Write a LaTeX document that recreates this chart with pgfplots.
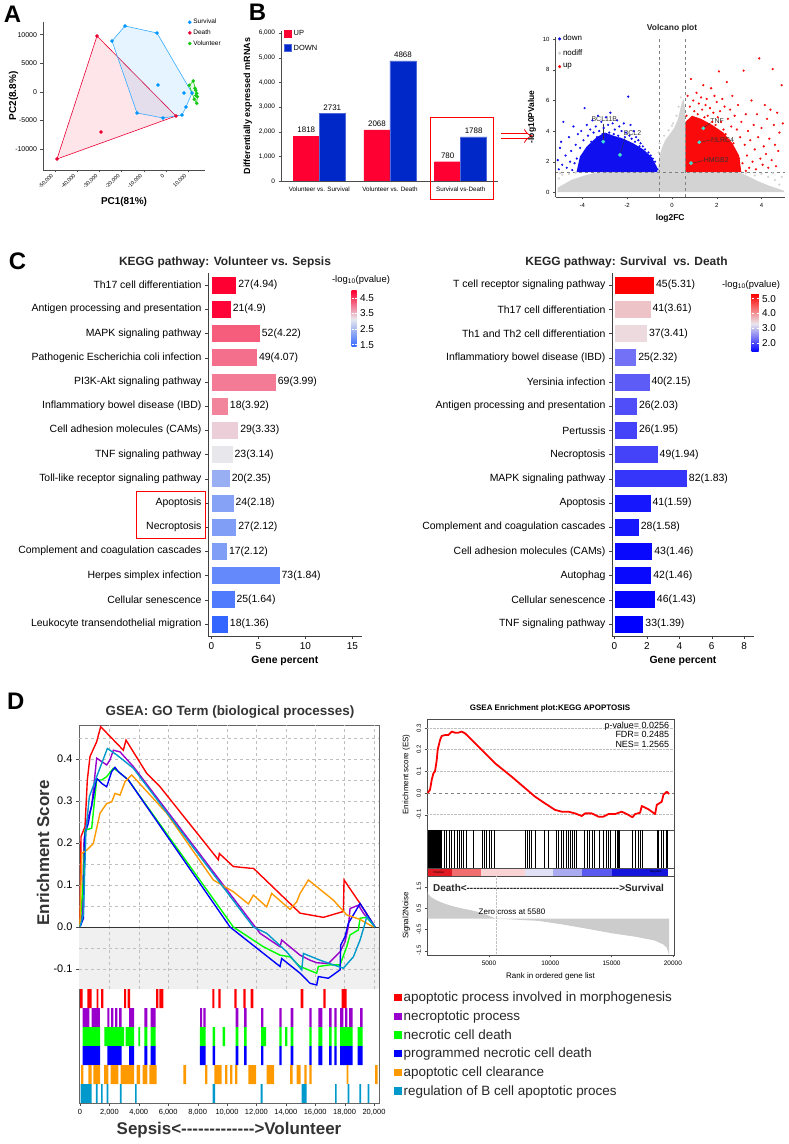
\documentclass[border=0pt]{standalone}
\usepackage{fontspec}
\setmainfont{Liberation Sans}
\newfontfamily\nolig{Liberation Sans}
\usepackage{pgfplots}
\pgfplotsset{compat=1.18}
\usetikzlibrary{arrows.meta}

\newcommand\fs[2]{\fontsize{#1}{#2}\selectfont}
\newcommand\py[1]{1144bp-#1bp}

\definecolor{survblue}{RGB}{0,150,255}
\definecolor{deathred}{RGB}{235,0,50}
\definecolor{volgreen}{RGB}{20,200,20}
\definecolor{upred}{RGB}{255,0,51}
\definecolor{downblue}{RGB}{0,40,200}
\definecolor{vblue}{RGB}{15,15,240}
\definecolor{vred}{RGB}{250,10,10}
\definecolor{vgray}{RGB}{211,211,211}
\definecolor{vcyan}{RGB}{64,224,208}
\definecolor{kred}{RGB}{255,0,51}
\definecolor{kmid}{RGB}{232,232,236}
\definecolor{kblue}{RGB}{51,102,255}
\definecolor{kr2}{RGB}{255,0,0}
\definecolor{km2}{RGB}{235,230,235}
\definecolor{kb2}{RGB}{0,0,255}
\definecolor{gsred}{RGB}{255,0,0}
\definecolor{gspurple}{RGB}{153,0,204}
\definecolor{gsgreen}{RGB}{0,255,0}
\definecolor{gsblue}{RGB}{0,0,255}
\definecolor{gsorange}{RGB}{255,153,0}
\definecolor{gscyan}{RGB}{0,153,204}

\pgfplotsset{
  /pgf/number format/assume math mode=true,
  panel/.style={anchor=south west, scale only axis, tick align=outside},
  kbar/.style={xbar, bar shift=0pt, bar width=18bp, draw=white, line width=0.5pt,
    nodes near coords, point meta=explicit symbolic,
    nodes near coords style={font=\fs{10.5}{12}, anchor=west, inner sep=1.5bp, text=black}},
  rug/.style={forget plot, unbounded coords=jump, fill=#1, draw=none},
  sqleg/.style={legend image code/.code={\fill[##1] (0bp,-3.5bp) rectangle (7bp,3.5bp);}},
}

\begin{document}
\begin{tikzpicture}

% ---------------- A: PCA
\begin{axis}[panel, at={(43bp,\py{170})}, width=162bp, height=148bp,
  xmin=-55405, xmax=17568, ymin=-13634, ymax=12236,
  axis lines*=left, axis line style={black!70, line width=0.6pt}, tick style={black!70, line width=0.6pt},
  major tick length=2.5bp, scaled ticks=false,
  xtick={-50000,-40000,-30000,-20000,-10000,0,10000},
  ytick={-10000,-5000,0,5000,10000},
  xticklabel style={font=\fs{5.4}{6.2}, rotate=45, anchor=east, /pgf/number format/1000 sep={,}},
  yticklabel style={font=\fs{7}{8}, /pgf/number format/1000 sep={}},
  xlabel={PC1(81\%)}, ylabel={PC2(8.8\%)}, label style={font=\bfseries\fs{10}{11}},
  ylabel style={at={(axis description cs:-0.182,0.5)}, anchor=center},
  legend style={at={(0.895,1.034)}, anchor=north west, draw=none, fill=none,
    font=\fs{6.5}{7.5}, row sep=0.5bp, inner sep=0pt},
  legend cell align=left]
\addlegendimage{only marks, mark=*, mark size=1.6pt, survblue}
\addlegendentry{Survival}
\addlegendimage{only marks, mark=*, mark size=1.6pt, deathred}
\addlegendentry{Death}
\addlegendimage{only marks, mark=*, mark size=1.6pt, volgreen}
\addlegendentry{Volunteer}
\addplot[forget plot, draw=deathred, line width=0.6pt, fill=deathred, fill opacity=0.1]
  coordinates {(-31080,9790) (4500,-4200) (-49100,-11710)} -- cycle;
\addplot[forget plot, draw=survblue!80, line width=0.6pt, fill=survblue, fill opacity=0.1]
  coordinates {(-24320,8910) (-18470,11540) (-4050,10310) (11710,-170) (9010,-2620)
  (7210,-4020) (-1350,-4540) (-13060,-3670)} -- cycle;
\addplot[forget plot, draw=volgreen, line width=0.6pt, fill=volgreen, fill opacity=0.1]
  coordinates {(12300,1920) (14100,-820) (13830,-1980) (12750,-1280) (10500,1170)} -- cycle;
\addplot[forget plot, only marks, mark=*, mark size=1.6pt, survblue] coordinates {
  (-24320,8910) (-18470,11540) (-4050,10310) (-3600,1220) (8110,-170) (11710,-170)
  (9010,-2620) (7210,-4020) (-1350,-4540) (-13060,-3670)};
\addplot[forget plot, only marks, mark=*, mark size=1.6pt, deathred] coordinates {
  (-31080,9790) (4500,-4200) (-29280,-6990) (-49100,-11710)};
\addplot[forget plot, only marks, mark=*, mark size=1.6pt, volgreen] coordinates {
  (12300,1920) (10500,1170) (13060,650) (13830,-230) (14100,-820) (12750,-1280)
  (13830,-1980) (13400,300) (13500,-600)};
\end{axis}

% ---------------- B: DE bar chart
\begin{axis}[panel, at={(281bp,\py{181})}, width=217bp, height=150bp,
  ybar=0pt, bar width=26bp, xmin=-0.542, xmax=2.528, ymin=0, ymax=6080,
  axis lines*=left, axis line style={black!70, line width=0.6pt}, tick style={black!70},
  major tick length=2.5bp, xtick={0,1,2}, xtick style={draw=none},
  xticklabels={Volunteer vs. Survival, Volunteer vs. Death, Survival vs-Death},
  xticklabel style={font=\fs{6.3}{7}},
  ytick={0,1000,2000,3000,4000,5000,6000}, scaled y ticks=false,
  yticklabel style={font=\fs{6.5}{7}, /pgf/number format/1000 sep={,}},
  ylabel={Differentially expressed mRNAs}, ylabel style={font=\bfseries\fs{9}{10}},
  nodes near coords, nodes near coords style={font=\fs{8}{9}, text=black, /pgf/number format/1000 sep={}},
  legend style={at={(0.014,1.02)}, anchor=north west, draw=none, fill=none,
    font=\fs{7.5}{8}, row sep=4bp, inner sep=0pt},
  legend cell align=left]
\addplot[fill=upred, draw=upred, sqleg] coordinates {(0,1818) (1,2068) (2,780)};
\addlegendentry{UP}
\addplot[fill=downblue, draw=downblue!70!white, sqleg] coordinates {(0,2731) (1,4868) (2,1788)};
\addlegendentry{DOWN}
\end{axis}
\draw[red, line width=0.8pt] (430bp,\py{117}) rectangle (493bp,\py{199});
\draw[red, line width=0.8pt, double, double distance=4bp, -{Implies}] (501bp,\py{136}) -- (533bp,\py{136});

% ---------------- B: volcano
\begin{axis}[panel, at={(555.5bp,\py{197})}, width=229.5bp, height=160.3bp,
  xmin=-5.2, xmax=5.05, ymin=-0.31, ymax=10.17,
  axis lines*=left, axis line style={black!70, line width=0.6pt}, tick style={black!70},
  major tick length=2.5bp, xtick={-4,-2,0,2,4}, ytick={0,2,4,6,8,10},
  ticklabel style={font=\fs{6}{7}},
  xlabel={log2FC}, ylabel={-log10PValue}, label style={font=\bfseries\fs{8.5}{9}},
  legend style={at={(0.011,1.023)}, anchor=north west, draw=none, fill=none,
    font=\fs{8}{9}, row sep=3bp, inner sep=0pt},
  legend cell align=left]
\addlegendimage{only marks, mark=*, mark size=1.4pt, vblue}
\addlegendentry{down}
\addlegendimage{only marks, mark=*, mark size=1.4pt, vgray}
\addlegendentry{nodiff}
\addlegendimage{only marks, mark=*, mark size=1.4pt, vred}
\addlegendentry{up}
\addplot[forget plot, fill=vgray, draw=none] coordinates {
  (-5.1,0) (-5.1,0.3) (-4.8,0.55) (-4.5,0.8) (-4.0,1.05) (-3.5,1.25) (-3.0,1.3)
  (-0.62,1.3) (-0.58,2.2) (-0.45,2.9) (-0.3,3.4) (-0.1,3.8) (0.1,4.2) (0.25,4.7)
  (0.35,5.3) (0.45,5.9) (0.52,6.1) (0.58,5.5) (0.58,1.3) (3.0,1.3) (3.4,1.05)
  (3.8,0.75) (4.3,0.45) (4.7,0.25) (5.0,0.1) (5.0,0)} -- cycle;
\addplot[forget plot, only marks, mark=*, mark size=0.9pt, vgray] coordinates {
  (-5.05,0.9) (-4.9,1.15) (-4.6,1.2) (-4.3,1.28) (-5.0,1.25) (4.8,0.5) (4.6,0.8)
  (4.3,1.0) (4.0,1.2) (3.7,1.1) (4.9,1.0) (4.5,1.25) (3.3,1.25) (-0.55,3.2)
  (-0.35,3.7) (-0.15,4.05) (0.05,4.5) (0.2,5.0) (0.3,5.6) (0.4,6.2) (-0.6,2.6) (0.0,4.35)};
\addplot[forget plot, fill=vblue, draw=none] coordinates {
  (-4.26,1.32) (-4.11,2.33) (-3.81,2.98) (-3.36,3.6) (-2.99,3.9) (-2.62,3.7)
  (-2.17,3.5) (-1.73,3.2) (-1.28,2.8) (-0.91,2.3) (-0.68,1.68) (-0.65,1.32)} -- cycle;
\addplot[forget plot, only marks, mark=*, mark size=0.9pt, vblue] coordinates {
  (-5.05,1.5) (-5.1,2.1) (-5.0,2.9) (-4.95,3.3) (-4.85,4.6) (-4.9,1.8) (-4.75,2.4)
  (-4.7,1.6) (-4.6,3.6) (-4.55,2.0) (-4.5,2.7) (-4.4,4.3) (-4.35,1.9) (-4.3,3.1)
  (-4.25,2.2) (-4.2,3.8) (-4.15,1.7) (-4.1,2.9) (-4.05,4.0) (-3.95,3.4) (-3.9,5.5)
  (-3.85,2.6) (-3.8,4.4) (-3.75,3.7) (-3.7,1.8) (-3.65,4.1) (-3.6,3.3) (-3.55,4.7)
  (-3.5,3.9) (-3.45,2.4) (-3.4,4.3) (-3.35,3.6) (-3.3,5.0) (-3.25,4.0) (-3.2,3.4)
  (-3.15,4.6) (-3.1,3.8) (-3.05,4.2) (-3.0,3.5) (-2.95,4.9) (-2.9,3.7) (-2.85,4.4)
  (-2.8,3.9) (-2.75,5.2) (-2.7,3.6) (-2.65,4.5) (-2.6,3.8) (-2.55,4.1) (-2.5,3.4)
  (-2.45,4.7) (-2.4,3.7) (-2.35,4.3) (-2.3,3.5) (-2.25,4.0) (-2.2,3.3) (-2.15,4.5)
  (-2.1,3.6) (-2.05,3.9) (-2.0,3.2) (-1.95,6.25) (-1.9,3.7) (-1.85,4.4) (-1.8,3.5)
  (-1.75,3.1) (-1.7,4.0) (-1.65,3.3) (-1.6,3.6) (-1.55,2.9) (-1.5,3.4) (-1.45,3.0)
  (-1.4,3.2) (-1.35,2.7) (-1.3,3.0) (-1.25,2.6) (-1.2,2.8) (-1.15,2.5) (-1.1,2.3)
  (-1.05,2.6) (-1.0,2.2) (-0.95,2.4) (-0.9,2.0) (-0.85,2.2) (-0.8,1.8) (-0.75,2.0)
  (-0.7,1.6) (-0.65,1.5) (-4.45,1.45) (-4.0,1.5) (-3.3,2.2) (-2.9,2.5) (-2.5,2.2)
  (-2.1,2.6) (-1.6,2.3)};
\addplot[forget plot, fill=vred, draw=none] coordinates {
  (0.6,1.32) (0.6,4.6) (0.9,5.0) (1.3,4.8) (1.8,4.4) (2.3,3.9) (2.7,3.2)
  (3.0,2.4) (3.1,1.32)} -- cycle;
\addplot[forget plot, only marks, mark=*, mark size=0.9pt, vred] coordinates {
  (0.65,5.0) (0.7,6.3) (0.75,4.6) (0.8,5.6) (0.85,7.4) (0.9,4.9) (0.95,6.0) (1.0,5.3)
  (1.05,4.8) (1.1,6.5) (1.15,5.1) (1.2,5.8) (1.25,4.7) (1.3,6.2) (1.35,5.4) (1.4,7.0)
  (1.45,4.9) (1.5,5.7) (1.55,6.1) (1.6,5.0) (1.7,5.5) (1.75,6.8) (1.8,4.6) (1.85,5.2)
  (1.9,6.3) (1.95,4.4) (2.0,5.9) (2.05,4.9) (2.1,7.9) (2.15,5.3) (2.2,4.6) (2.25,6.1)
  (2.3,4.1) (2.35,5.6) (2.4,3.8) (2.45,7.2) (2.5,4.8) (2.55,3.4) (2.6,5.4) (2.65,4.3)
  (2.7,6.3) (2.75,3.2) (2.8,5.0) (2.85,2.6) (2.9,4.1) (2.95,5.7) (3.0,2.2) (3.05,3.6)
  (3.1,4.6) (3.15,1.9) (3.2,7.95) (3.25,3.1) (3.3,5.1) (3.35,2.4) (3.4,4.0) (3.45,1.6)
  (3.5,3.4) (3.55,6.0) (3.6,2.0) (3.65,4.4) (3.7,2.8) (3.75,1.5) (3.8,5.1) (3.85,3.6)
  (3.9,8.75) (3.95,2.2) (4.0,4.2) (4.05,1.8) (4.1,3.0) (4.15,5.7) (4.2,2.5) (4.25,4.8)
  (4.3,1.6) (4.35,3.5) (4.4,5.4) (4.45,2.1) (4.5,8.05) (4.55,4.4) (4.6,3.1) (4.65,1.7)
  (4.7,5.2) (4.75,2.7) (4.8,3.9) (4.9,7.0) (4.95,4.5) (3.3,1.4) (2.2,1.5) (1.9,3.4) (2.6,2.6)};
\draw[gray, dashed, line width=0.5pt] (axis cs:-0.585,-0.31) -- (axis cs:-0.585,10.17);
\draw[gray, dashed, line width=0.5pt] (axis cs:0.585,-0.31) -- (axis cs:0.585,10.17);
\draw[gray, dashed, line width=0.5pt] (axis cs:-5.2,1.3) -- (axis cs:5.05,1.3);
\draw[black!80, line width=0.4pt] (axis cs:-3.07,4.47) -- (axis cs:-3.07,3.42);
\draw[black!80, line width=0.4pt] (axis cs:-2.10,3.53) -- (axis cs:-2.32,2.44);
\draw[black!80, line width=0.4pt] (axis cs:1.73,4.55) -- (axis cs:1.43,4.23);
\draw[black!80, line width=0.4pt] (axis cs:1.73,3.42) -- (axis cs:1.28,3.27);
\draw[black!80, line width=0.4pt] (axis cs:1.40,2.07) -- (axis cs:0.92,1.90);
\addplot[forget plot, only marks, mark=*, mark size=1.7pt, vcyan] coordinates {
  (-3.07,3.31) (-2.32,2.44) (1.40,4.18) (1.22,3.27) (0.85,1.90)};
\node[font=\fs{7}{8}, text=black!80] at (axis cs:-3.02,4.77) {BCL11B};
\node[font=\fs{7}{8}, text=black!80] at (axis cs:-1.76,3.86) {BCL2};
\node[font=\fs{7}{8}, text=black!80] at (axis cs:2.02,4.68) {TNF};
\node[font=\fs{7}{8}, text=black!80] at (axis cs:2.26,3.42) {NLRC4};
\node[font=\fs{7}{8}, text=black!80] at (axis cs:1.98,2.07) {HMGB2};
\end{axis}
\node[font=\bfseries\fs{8.5}{9}, text=black!85] at (672bp,\py{28}) {Volcano plot};

% ---------------- C left
\begin{axis}[panel, at={(208bp,\py{636})}, width=153.7bp, height=363bp,
  xmin=-0.35, xmax=16, ymin=0.5, ymax=15.5,
  axis lines*=left, axis line style={black!75, line width=0.7pt}, tick style={black!75},
  major tick length=3bp, xtick={0,5,10,15}, ytick={1,...,15},
  yticklabels={Leukocyte transendothelial migration, Cellular senescence, Herpes simplex infection,
    Complement and coagulation cascades, Necroptosis, Apoptosis, Toll-like receptor signaling pathway,
    TNF signaling pathway, Cell adhesion molecules (CAMs), Inflammatiory bowel disease (IBD),
    PI3K-Akt signaling pathway, Pathogenic Escherichia coli infection, MAPK signaling pathway,
    Antigen processing and presentation, Th17 cell differentiation},
  yticklabel style={font=\fs{10.5}{12}}, xticklabel style={font=\fs{10}{11}},
  xlabel={Gene percent}, xlabel style={font=\bfseries\fs{10.5}{12}},
  colormap={kl}{rgb255(0pt)=(51,102,255); rgb255(178pt)=(232,232,236); rgb255(358pt)=(255,0,51); rgb255(364pt)=(255,0,51)},
  point meta min=1.36, point meta max=5.0,
  colorbar, colorbar style={at={(343bp,\py{290})}, anchor=north west, scale only axis,
    width=5bp, height=57bp, ytick={1.5,2.5,3.5,4.5}, yticklabel pos=right,
    yticklabel style={font=\fs{10}{11}, /pgf/number format/fixed, /pgf/number format/precision=1, /pgf/number format/fixed zerofill},
    axis line style={draw=none}, major tick length=2bp, tick style={white, line width=0.6pt}}]
\addplot[kbar, fill=kred] coordinates {(2.7,15) [27(4.94)]};
\addplot[kbar, fill=kred!98!kmid] coordinates {(2.1,14) [21(4.9)]};
\addplot[kbar, fill=kred!60!kmid] coordinates {(5.2,13) [52(4.22)]};
\addplot[kbar, fill=kred!52!kmid] coordinates {(4.9,12) [49(4.07)]};
\addplot[kbar, fill=kred!47!kmid] coordinates {(6.9,11) [69(3.99)]};
\addplot[kbar, fill=kred!43!kmid] coordinates {(1.8,10) [18(3.92)]};
\addplot[kbar, fill=kred!11!kmid] coordinates {(2.9,9) [29(3.33)]};
\addplot[kbar, fill=kmid] coordinates {(2.3,8) [23(3.14)]};
\addplot[kbar, fill=kblue!44!kmid] coordinates {(2.0,7) [20(2.35)]};
\addplot[kbar, fill=kblue!54!kmid] coordinates {(2.4,6) [24(2.18)]};
\addplot[kbar, fill=kblue!57!kmid] coordinates {(2.7,5) [27(2.12)]};
\addplot[kbar, fill=kblue!57!kmid] coordinates {(1.7,4) [17(2.12)]};
\addplot[kbar, fill=kblue!73!kmid] coordinates {(7.3,3) [73(1.84)]};
\addplot[kbar, fill=kblue!84!kmid] coordinates {(2.5,2) [25(1.64)]};
\addplot[kbar, fill=kblue] coordinates {(1.8,1) [18(1.36)]};
\end{axis}
\node[font=\bfseries\fs{12}{13}, text=black!85] at (225bp,\py{262}) {KEGG pathway: Volunteer vs. Sepsis};
\node[font=\fs{9.5}{10}] at (361bp,\py{280}) {-log\textsubscript{10}(pvalue)};
\draw[red, line width=0.8pt] (136.7bp,\py{491.7}) rectangle (205bp,\py{538.3});

% ---------------- C right
\begin{axis}[panel, at={(612bp,\py{636})}, width=142bp, height=363bp,
  xmin=-0.14, xmax=8.6, ymin=0.5, ymax=15.5,
  axis lines*=left, axis line style={black!75, line width=0.7pt}, tick style={black!75},
  major tick length=3bp, xtick={0,2,4,6,8}, ytick={1,...,15},
  yticklabels={TNF signaling pathway, Cellular senescence, Autophag, Cell adhesion molecules (CAMs),
    Complement and coagulation cascades, Apoptosis, MAPK signaling pathway, Necroptosis, Pertussis,
    Antigen processing and presentation, Yersinia infection, Inflammatiory bowel disease (IBD),
    Th1 and Th2 cell differentiation, Th17 cell differentiation, T cell receptor signaling pathway},
  yticklabel style={font=\fs{10.5}{12}}, xticklabel style={font=\fs{10}{11}},
  xlabel={Gene percent}, xlabel style={font=\bfseries\fs{10.5}{12}},
  colormap={kr}{rgb255(0pt)=(0,0,255); rgb255(191pt)=(235,230,235); rgb255(392pt)=(255,0,0)},
  point meta min=1.39, point meta max=5.31,
  colorbar, colorbar style={at={(743bp,\py{294})}, anchor=north west, scale only axis,
    width=7bp, height=58bp, ytick={2,3,4,5}, yticklabel pos=right,
    yticklabel style={font=\fs{10}{11}, /pgf/number format/fixed, /pgf/number format/precision=1, /pgf/number format/fixed zerofill},
    axis line style={draw=none}, major tick length=2bp, tick style={white, line width=0.6pt}}]
\addplot[kbar, fill=kr2] coordinates {(2.47,15) [45(5.31)]};
\addplot[kbar, fill=kr2!15!km2] coordinates {(2.25,14) [41(3.61)]};
\addplot[kbar, fill=kr2!5!km2] coordinates {(2.03,13) [37(3.41)]};
\addplot[kbar, fill=kb2!51!km2] coordinates {(1.37,12) [25(2.32)]};
\addplot[kbar, fill=kb2!60!km2] coordinates {(2.19,11) [40(2.15)]};
\addplot[kbar, fill=kb2!66!km2] coordinates {(1.42,10) [26(2.03)]};
\addplot[kbar, fill=kb2!71!km2] coordinates {(1.42,9) [26(1.95)]};
\addplot[kbar, fill=kb2!71!km2] coordinates {(2.69,8) [49(1.94)]};
\addplot[kbar, fill=kb2!77!km2] coordinates {(4.49,7) [82(1.83)]};
\addplot[kbar, fill=kb2!90!km2] coordinates {(2.25,6) [41(1.59)]};
\addplot[kbar, fill=kb2!90!km2] coordinates {(1.53,5) [28(1.58)]};
\addplot[kbar, fill=kb2!96!km2] coordinates {(2.36,4) [43(1.46)]};
\addplot[kbar, fill=kb2!96!km2] coordinates {(2.30,3) [42(1.46)]};
\addplot[kbar, fill=kb2!98!km2] coordinates {(2.52,2) [46(1.43)]};
\addplot[kbar, fill=kb2] coordinates {(1.81,1) [33(1.39)]};
\end{axis}
\node[font=\bfseries\fs{12}{13}, text=black!85] at (626.5bp,\py{262}) {KEGG pathway: Survival\ \ vs. Death};
\node[font=\fs{9.5}{10}] at (751bp,\py{285}) {-log\textsubscript{10}(pvalue)};

% ---------------- D left: GSEA GO terms
\begin{axis}[panel, at={(79bp,\py{1103})}, width=300bp, height=378bp,
  xmin=-68, xmax=20340, ymin=-0.419, ymax=0.481,
  xtick={0,2000,4000,6000,8000,10000,12000,14000,16000,18000,20000},
  ytick={-0.1,0,0.1,0.2,0.3,0.4}, xtick pos=bottom, ytick pos=left, scaled ticks=false,
  xticklabel style={font=\fs{7.5}{8}, /pgf/number format/1000 sep={,}},
  yticklabel style={font=\fs{11}{12}, /pgf/number format/fixed, /pgf/number format/precision=1, /pgf/number format/fixed zerofill},
  major tick length=3bp, axis line style={black!60, line width=1pt}, tick style={black!70},
  xlabel={\nolig Sepsis<------------->Volunteer}, xlabel style={font=\bfseries\fs{17}{18}, text=black!80},
  legend style={at={(1.05,0.299)}, anchor=north west, draw=none, fill=none,
    font=\fs{13.5}{15}, row sep=3.4bp, inner sep=0pt, text=black!85},
  legend cell align=left,
  legend image code/.code={\fill[#1] (0bp,-3bp) rectangle (6bp,3bp);}]
\fill[black!6] (axis cs:-68,-0.1476) rectangle (axis cs:20340,0);
\pgfplotsinvokeforeach{2000,4000,6000,8000,10000,12000,14000,16000,18000,20000}{
  \draw[black!25, dashed, line width=0.4pt] (axis cs:#1,-0.1476) -- (axis cs:#1,0.481);}
\pgfplotsinvokeforeach{-0.1,-0.05,0.05,0.1,0.15,0.2,0.25,0.3,0.35,0.4,0.45}{
  \draw[black!25, dashed, line width=0.4pt] (axis cs:-68,#1) -- (axis cs:20340,#1);}
\draw[black!80, line width=0.6pt] (axis cs:-68,0) -- (axis cs:20340,0);
\addplot[gsred, line width=1.4pt] coordinates {
  (0,0) (68,0.215) (340,0.239) (499,0.35) (680,0.406) (1134,0.441) (1406,0.477)
  (2948,0.421) (3130,0.445) (4536,0.366) (5443,0.334) (9072,0.175) (9412,0.160)
  (9480,0.175) (10433,0.144) (11567,0.140) (11794,0.140) (14969,0.033) (16556,0.023)
  (17917,0.037) (17962,0.112) (19051,0.056) (20072,0)};
\addlegendentry{apoptotic process involved in morphogenesis}
\addplot[gspurple, line width=1.4pt] coordinates {
  (0,0) (159,0.033) (272,0.207) (499,0.255) (794,0.287) (1134,0.402) (1814,0.386)
  (2041,0.398) (2268,0.421) (2722,0.417) (3629,0.382) (12247,-0.015) (13608,-0.047)
  (13721,-0.031) (14969,-0.067) (15649,-0.079) (16103,-0.085) (16897,-0.087)
  (17691,-0.059) (18030,-0.035) (18257,0.001) (18371,0.044) (18938,0.052)
  (19278,0.033) (20072,0)};
\addlegendentry{necroptotic process}
\addplot[gsgreen, line width=1.4pt] coordinates {
  (0,0) (227,0.112) (340,0.231) (794,0.235) (1134,0.350) (1474,0.350) (1814,0.358)
  (2268,0.378) (2608,0.370) (3289,0.350) (10433,0) (12474,-0.047) (13608,-0.067)
  (14288,-0.071) (14969,-0.094) (16103,-0.110) (16216,-0.094) (17010,-0.090)
  (17691,-0.090) (18144,-0.047) (18371,-0.019) (18938,-0.007) (19051,0.021)
  (19504,0.023) (20072,0)};
\addlegendentry{necrotic cell death}
\addplot[gsblue, line width=1.4pt] coordinates {
  (0,0) (227,0.02) (340,0.223) (567,0.247) (680,0.271) (907,0.310) (1134,0.354)
  (1474,0.342) (1814,0.334) (2155,0.370) (2381,0.380) (2608,0.370) (3289,0.350)
  (10206,0) (13608,-0.094) (13721,-0.075) (14969,-0.110) (15649,-0.134) (16103,-0.138)
  (16216,-0.118) (16897,-0.122) (17691,-0.102) (17736,-0.043) (18030,-0.023)
  (18257,0.009) (18598,0.029) (19051,0.056) (20072,0)};
\addlegendentry{programmed necrotic cell death}
\addplot[gsorange, line width=1.4pt] coordinates {
  (0,0) (113,0.175) (454,0.183) (907,0.199) (1361,0.271) (1814,0.294) (2155,0.298)
  (2381,0.318) (2722,0.314) (3062,0.346) (3515,0.362) (3629,0.358) (5897,0.271)
  (9072,0.112) (10433,0.084) (11454,0.055) (11794,0.076) (12701,0.048) (13041,0.080)
  (14288,0.042) (14742,0.060) (14969,0.080) (15536,0.112) (17237,0.064) (18144,0.029)
  (19051,0.018) (19958,0)};
\addlegendentry{apoptotic cell clearance}
\addplot[gscyan, line width=1.4pt] coordinates {
  (0,0) (227,0.03) (408,0.231) (635,0.310) (1134,0.358) (1860,0.425) (2495,0.410)
  (3629,0.378) (11794,0) (12701,-0.015) (14062,-0.059) (15082,-0.102) (15196,-0.063)
  (16330,-0.079) (17237,-0.090) (17917,-0.098) (18598,-0.071) (19051,-0.031)
  (19391,0.009) (19504,0.025) (20072,0)};
\addlegendentry{regulation of B cell apoptotic proces}
% rug rows: one rectangle per run of set members along the ranked list
\addplot[rug=gsred] coordinates {
(0,-0.1929) (0,-0.1476) (182,-0.1476) (182,-0.1929) (nan,nan)
(499,-0.1929) (499,-0.1476) (793,-0.1476) (793,-0.1929) (nan,nan)
(1134,-0.1929) (1134,-0.1476) (1248,-0.1476) (1248,-0.1929) (nan,nan)
(1429,-0.1929) (1429,-0.1476) (1587,-0.1476) (1587,-0.1929) (nan,nan)
(2994,-0.1929) (2994,-0.1476) (3130,-0.1476) (3130,-0.1929) (nan,nan)
(3244,-0.1929) (3244,-0.1476) (3402,-0.1476) (3402,-0.1929) (nan,nan)
(5171,-0.1929) (5171,-0.1476) (5329,-0.1476) (5329,-0.1929) (nan,nan)
(5398,-0.1929) (5398,-0.1476) (5670,-0.1476) (5670,-0.1929) (nan,nan)
(9004,-0.1929) (9004,-0.1476) (9140,-0.1476) (9140,-0.1929) (nan,nan)
(9413,-0.1929) (9413,-0.1476) (9571,-0.1476) (9571,-0.1929) (nan,nan)
(10501,-0.1929) (10501,-0.1476) (10659,-0.1476) (10659,-0.1929) (nan,nan)
(11113,-0.1929) (11113,-0.1476) (11271,-0.1476) (11271,-0.1929) (nan,nan)
(11612,-0.1929) (11612,-0.1476) (11794,-0.1476) (11794,-0.1929) (nan,nan)
(15014,-0.1929) (15014,-0.1476) (15196,-0.1476) (15196,-0.1929) (nan,nan)
(16556,-0.1929) (16556,-0.1476) (16714,-0.1476) (16714,-0.1929) (nan,nan)
(17804,-0.1929) (17804,-0.1476) (18144,-0.1476) (18144,-0.1929)};
\addplot[rug=gspurple] coordinates {
(181,-0.2381) (181,-0.1929) (635,-0.1929) (635,-0.2381) (nan,nan)
(794,-0.2381) (794,-0.1929) (1360,-0.1929) (1360,-0.2381) (nan,nan)
(1860,-0.2381) (1860,-0.1929) (1996,-0.1929) (1996,-0.2381) (nan,nan)
(2110,-0.2381) (2110,-0.1929) (2268,-0.1929) (2268,-0.2381) (nan,nan)
(2382,-0.2381) (2382,-0.1929) (2540,-0.1929) (2540,-0.2381) (nan,nan)
(2653,-0.2381) (2653,-0.1929) (2835,-0.1929) (2835,-0.2381) (nan,nan)
(3334,-0.2381) (3334,-0.1929) (3674,-0.1929) (3674,-0.2381) (nan,nan)
(4377,-0.2381) (4377,-0.1929) (4581,-0.1929) (4581,-0.2381) (nan,nan)
(4808,-0.2381) (4808,-0.1929) (5148,-0.1929) (5148,-0.2381) (nan,nan)
(8165,-0.2381) (8165,-0.1929) (8301,-0.1929) (8301,-0.2381) (nan,nan)
(8392,-0.2381) (8392,-0.1929) (8550,-0.1929) (8550,-0.2381) (nan,nan)
(10591,-0.2381) (10591,-0.1929) (10773,-0.1929) (10773,-0.2381) (nan,nan)
(11158,-0.2381) (11158,-0.1929) (11340,-0.1929) (11340,-0.2381) (nan,nan)
(12316,-0.2381) (12316,-0.1929) (12474,-0.1929) (12474,-0.2381) (nan,nan)
(13563,-0.2381) (13563,-0.1929) (13721,-0.1929) (13721,-0.2381) (nan,nan)
(14333,-0.2381) (14333,-0.1929) (14515,-0.1929) (14515,-0.2381) (nan,nan)
(15604,-0.2381) (15604,-0.1929) (15762,-0.1929) (15762,-0.2381) (nan,nan)
(16216,-0.2381) (16216,-0.1929) (16488,-0.1929) (16488,-0.2381) (nan,nan)
(16942,-0.2381) (16942,-0.1929) (17124,-0.1929) (17124,-0.2381) (nan,nan)
(17305,-0.2381) (17305,-0.1929) (17463,-0.1929) (17463,-0.2381) (nan,nan)
(17691,-0.2381) (17691,-0.1929) (17917,-0.1929) (17917,-0.2381) (nan,nan)
(18031,-0.2381) (18031,-0.1929) (18189,-0.1929) (18189,-0.2381) (nan,nan)
(18302,-0.2381) (18302,-0.1929) (18552,-0.1929) (18552,-0.2381) (nan,nan)
(19051,-0.2381) (19051,-0.1929) (19233,-0.1929) (19233,-0.2381)};
\addplot[rug=gsgreen] coordinates {
(181,-0.2833) (181,-0.2381) (1361,-0.2381) (1361,-0.2833) (nan,nan)
(1656,-0.2833) (1656,-0.2381) (2994,-0.2381) (2994,-0.2833) (nan,nan)
(3108,-0.2833) (3108,-0.2381) (3674,-0.2381) (3674,-0.2833) (nan,nan)
(3969,-0.2833) (3969,-0.2381) (4083,-0.2381) (4083,-0.2833) (nan,nan)
(4377,-0.2833) (4377,-0.2381) (4581,-0.2381) (4581,-0.2833) (nan,nan)
(4808,-0.2833) (4808,-0.2381) (5148,-0.2381) (5148,-0.2833) (nan,nan)
(8159,-0.2833) (8159,-0.2381) (8545,-0.2381) (8545,-0.2833) (nan,nan)
(9027,-0.2833) (9027,-0.2381) (9185,-0.2381) (9185,-0.2833) (nan,nan)
(9707,-0.2833) (9707,-0.2381) (9865,-0.2381) (9865,-0.2833) (nan,nan)
(10591,-0.2833) (10591,-0.2381) (10773,-0.2381) (10773,-0.2833) (nan,nan)
(11158,-0.2833) (11158,-0.2381) (11340,-0.2381) (11340,-0.2833) (nan,nan)
(12315,-0.2833) (12315,-0.2381) (12655,-0.2381) (12655,-0.2833) (nan,nan)
(13563,-0.2833) (13563,-0.2381) (13721,-0.2381) (13721,-0.2833) (nan,nan)
(13949,-0.2833) (13949,-0.2381) (14107,-0.2381) (14107,-0.2833) (nan,nan)
(14333,-0.2833) (14333,-0.2381) (14515,-0.2381) (14515,-0.2833) (nan,nan)
(15604,-0.2833) (15604,-0.2381) (15762,-0.2381) (15762,-0.2833) (nan,nan)
(16216,-0.2833) (16216,-0.2381) (16488,-0.2381) (16488,-0.2833) (nan,nan)
(16942,-0.2833) (16942,-0.2381) (17124,-0.2381) (17124,-0.2833) (nan,nan)
(17305,-0.2833) (17305,-0.2381) (17463,-0.2381) (17463,-0.2833) (nan,nan)
(17690,-0.2833) (17690,-0.2381) (18552,-0.2381) (18552,-0.2833) (nan,nan)
(18892,-0.2833) (18892,-0.2381) (19232,-0.2381) (19232,-0.2833)};
\addplot[rug=gsblue] coordinates {
(181,-0.3286) (181,-0.2833) (1361,-0.2833) (1361,-0.3286) (nan,nan)
(1859,-0.3286) (1859,-0.2833) (2835,-0.2833) (2835,-0.3286) (nan,nan)
(3334,-0.3286) (3334,-0.2833) (3674,-0.2833) (3674,-0.3286) (nan,nan)
(4377,-0.3286) (4377,-0.2833) (4581,-0.2833) (4581,-0.3286) (nan,nan)
(4808,-0.3286) (4808,-0.2833) (5148,-0.2833) (5148,-0.3286) (nan,nan)
(8159,-0.3286) (8159,-0.2833) (8545,-0.2833) (8545,-0.3286) (nan,nan)
(9027,-0.3286) (9027,-0.2833) (9185,-0.2833) (9185,-0.3286) (nan,nan)
(10591,-0.3286) (10591,-0.2833) (10773,-0.2833) (10773,-0.3286) (nan,nan)
(11158,-0.3286) (11158,-0.2833) (11340,-0.2833) (11340,-0.3286) (nan,nan)
(12316,-0.3286) (12316,-0.2833) (12474,-0.2833) (12474,-0.3286) (nan,nan)
(13563,-0.3286) (13563,-0.2833) (13721,-0.2833) (13721,-0.3286) (nan,nan)
(14333,-0.3286) (14333,-0.2833) (14515,-0.2833) (14515,-0.3286) (nan,nan)
(15604,-0.3286) (15604,-0.2833) (15762,-0.2833) (15762,-0.3286) (nan,nan)
(16216,-0.3286) (16216,-0.2833) (16488,-0.2833) (16488,-0.3286) (nan,nan)
(16942,-0.3286) (16942,-0.2833) (17124,-0.2833) (17124,-0.3286) (nan,nan)
(17305,-0.3286) (17305,-0.2833) (17463,-0.2833) (17463,-0.3286) (nan,nan)
(17690,-0.3286) (17690,-0.2833) (18552,-0.2833) (18552,-0.3286) (nan,nan)
(18892,-0.3286) (18892,-0.2833) (19232,-0.2833) (19232,-0.3286)};
\addplot[rug=gsorange] coordinates {
(68,-0.3738) (68,-0.3286) (226,-0.3286) (226,-0.3738) (nan,nan)
(567,-0.3738) (567,-0.3286) (793,-0.3286) (793,-0.3738) (nan,nan)
(907,-0.3738) (907,-0.3286) (1361,-0.3286) (1361,-0.3738) (nan,nan)
(1633,-0.3738) (1633,-0.3286) (1927,-0.3286) (1927,-0.3738) (nan,nan)
(2086,-0.3738) (2086,-0.3286) (2608,-0.3286) (2608,-0.3738) (nan,nan)
(2767,-0.3738) (2767,-0.3286) (3675,-0.3286) (3675,-0.3738) (nan,nan)
(3856,-0.3738) (3856,-0.3286) (4082,-0.3286) (4082,-0.3738) (nan,nan)
(4264,-0.3738) (4264,-0.3286) (4582,-0.3286) (4582,-0.3738) (nan,nan)
(4718,-0.3738) (4718,-0.3286) (5216,-0.3286) (5216,-0.3738) (nan,nan)
(7031,-0.3738) (7031,-0.3286) (7213,-0.3286) (7213,-0.3738) (nan,nan)
(8505,-0.3738) (8505,-0.3286) (8663,-0.3286) (8663,-0.3738) (nan,nan)
(9141,-0.3738) (9141,-0.3286) (9639,-0.3286) (9639,-0.3738) (nan,nan)
(9866,-0.3738) (9866,-0.3286) (10024,-0.3286) (10024,-0.3738) (nan,nan)
(10206,-0.3738) (10206,-0.3286) (10364,-0.3286) (10364,-0.3738) (nan,nan)
(10547,-0.3738) (10547,-0.3286) (10705,-0.3286) (10705,-0.3738) (nan,nan)
(11453,-0.3738) (11453,-0.3286) (11975,-0.3286) (11975,-0.3738) (nan,nan)
(12701,-0.3738) (12701,-0.3286) (13199,-0.3286) (13199,-0.3738) (nan,nan)
(14288,-0.3738) (14288,-0.3286) (14470,-0.3286) (14470,-0.3738) (nan,nan)
(14742,-0.3738) (14742,-0.3286) (15014,-0.3286) (15014,-0.3738) (nan,nan)
(15264,-0.3738) (15264,-0.3286) (15422,-0.3286) (15422,-0.3738) (nan,nan)
(15604,-0.3738) (15604,-0.3286) (15762,-0.3286) (15762,-0.3738) (nan,nan)
(18143,-0.3738) (18143,-0.3286) (18257,-0.3286) (18257,-0.3738) (nan,nan)
(20072,-0.3738) (20072,-0.3286) (20254,-0.3286) (20254,-0.3738)};
\addplot[rug=gscyan] coordinates {
(46,-0.4190) (46,-0.3738) (794,-0.3738) (794,-0.4190) (nan,nan)
(1088,-0.4190) (1088,-0.3738) (1202,-0.3738) (1202,-0.4190) (nan,nan)
(1429,-0.4190) (1429,-0.3738) (1543,-0.3738) (1543,-0.4190) (nan,nan)
(1814,-0.4190) (1814,-0.3738) (1928,-0.3738) (1928,-0.4190) (nan,nan)
(2721,-0.4190) (2721,-0.3738) (2835,-0.3738) (2835,-0.4190) (nan,nan)
(3742,-0.4190) (3742,-0.3738) (3856,-0.3738) (3856,-0.4190) (nan,nan)
(9027,-0.4190) (9027,-0.3738) (9185,-0.3738) (9185,-0.4190) (nan,nan)
(12293,-0.4190) (12293,-0.3738) (12429,-0.3738) (12429,-0.4190) (nan,nan)
(15082,-0.4190) (15082,-0.3738) (15422,-0.3738) (15422,-0.4190) (nan,nan)
(17350,-0.4190) (17350,-0.3738) (17464,-0.3738) (17464,-0.4190) (nan,nan)
(18212,-0.4190) (18212,-0.3738) (18326,-0.3738) (18326,-0.4190) (nan,nan)
(19005,-0.4190) (19005,-0.3738) (19119,-0.3738) (19119,-0.4190) (nan,nan)
(19572,-0.4190) (19572,-0.3738) (19686,-0.3738) (19686,-0.4190)};
\end{axis}
\node[font=\bfseries\fs{13.5}{15}, text=black!80] at (230bp,\py{712}) {GSEA: GO Term (biological processes)};
\node[font=\bfseries\fs{17}{18}, text=black!80, rotate=90] at (43bp,\py{853}) {Enrichment Score};

% ---------------- D right: enrichment plot
\begin{axis}[panel, at={(427bp,\py{830})}, width=247bp, height=111bp,
  xmin=-57, xmax=20091, ymin=-0.1705, ymax=0.341,
  xtick=\empty, ytick={-0.1,0,0.1,0.2,0.3}, ytick pos=left,
  yticklabel style={rotate=90, anchor=south, font=\fs{6}{7}, /pgf/number format/fixed, /pgf/number format/precision=1, /pgf/number format/fixed zerofill},
  ylabel={Enrichment score (ES)}, ylabel style={font=\fs{8}{9}},
  major tick length=2.5bp, axis line style={black!70, line width=0.6pt}, tick style={black!70}]
\pgfplotsinvokeforeach{-0.1,0.1,0.2,0.3}{
  \draw[black!25, densely dotted] (axis cs:-57,#1) -- (axis cs:20091,#1);}
\draw[black!50, dashed, line width=0.4pt] (axis cs:-57,0) -- (axis cs:20091,0);
\addplot[gsred, line width=1.8pt, line join=round] coordinates {
  (0,0) (190,0.015) (326,0.06) (462,0.09) (598,0.10) (734,0.15) (816,0.20) (1006,0.244)
  (1142,0.263) (1414,0.267) (1686,0.267) (1958,0.283) (2230,0.278) (2502,0.278)
  (2774,0.283) (3046,0.275) (3318,0.26) (5494,0.137) (6854,0.075) (8758,-0.017)
  (9574,-0.048) (10390,-0.078) (10934,-0.086) (11478,-0.086) (12022,-0.094)
  (12566,-0.106) (12838,-0.094) (13382,-0.094) (13926,-0.109) (14334,-0.109)
  (14742,-0.097) (15286,-0.097) (15830,-0.086) (16374,-0.101) (16700,-0.112)
  (16918,-0.097) (17326,-0.091) (17462,-0.060) (18006,-0.075) (18550,-0.097)
  (18686,-0.055) (19094,-0.040) (19230,-0.008) (19502,0.006) (19693,-0.005)};
\node[anchor=north east, align=right, font=\fs{9}{9.6}, inner sep=1bp] at (axis description cs:0.985,0.985)
  {p-value= 0.0256\\FDR= 0.2485\\NES= 1.2565};
\end{axis}
\begin{axis}[panel, at={(427bp,\py{876})}, width=247bp, height=46bp,
  xmin=-57, xmax=20091, ymin=0, ymax=1, xtick=\empty, ytick=\empty,
  axis line style={black!70, line width=0.6pt}]
\addplot[forget plot, fill={rgb,255:red,225;green,25;blue,35}, draw=none] coordinates {(54,0) (1958,0) (1958,0.174) (54,0.174)} -- cycle;
\addplot[forget plot, fill={rgb,255:red,240;green,110;blue,110}, draw=none] coordinates {(1958,0) (4352,0) (4352,0.174) (1958,0.174)} -- cycle;
\addplot[forget plot, fill={rgb,255:red,250;green,212;blue,212}, draw=none] coordinates {(4352,0) (7942,0) (7942,0.174) (4352,0.174)} -- cycle;
\addplot[forget plot, fill={rgb,255:red,225;green,225;blue,245}, draw=none] coordinates {(7942,0) (10254,0) (10254,0.174) (7942,0.174)} -- cycle;
\addplot[forget plot, fill={rgb,255:red,170;green,170;blue,240}, draw=none] coordinates {(10254,0) (12566,0) (12566,0.174) (10254,0.174)} -- cycle;
\addplot[forget plot, fill={rgb,255:red,90;green,90;blue,240}, draw=none] coordinates {(12566,0) (15014,0) (15014,0.174) (12566,0.174)} -- cycle;
\addplot[forget plot, fill={rgb,255:red,20;green,20;blue,220}, draw=none] coordinates {(15014,0) (19638,0) (19638,0.174) (15014,0.174)} -- cycle;
\draw[black!70, line width=0.4pt] (axis cs:-57,0.174) -- (axis cs:20091,0.174);
\addplot[only marks, mark=|, mark size=19bp, mark options={line width=0.45pt, black}] coordinates {
  (54,0.587) (109,0.587) (163,0.587) (218,0.587) (272,0.587) (326,0.587) (381,0.587)
  (435,0.587) (490,0.587) (544,0.587) (626,0.587) (707,0.587) (789,0.587) (870,0.587)
  (952,0.587) (1006,0.587) (1142,0.587) (1360,0.587) (1550,0.587) (1741,0.587)
  (1904,0.587) (2176,0.587) (2448,0.587) (2584,0.587) (2720,0.587) (2910,0.587)
  (3182,0.587) (3726,0.587) (4461,0.587) (4624,0.587) (4814,0.587) (5005,0.587)
  (5222,0.587) (5413,0.587) (7942,0.587) (8078,0.587) (8269,0.587) (8432,0.587)
  (8758,0.587) (9520,0.587) (9846,0.587) (10472,0.587) (10662,0.587) (10853,0.587)
  (11070,0.587) (11261,0.587) (11478,0.587) (11614,0.587) (11750,0.587) (11941,0.587)
  (12104,0.587) (12784,0.587) (12974,0.587) (13192,0.587) (13382,0.587) (13600,0.587)
  (13981,0.587) (14334,0.587) (14525,0.587) (14742,0.587) (14878,0.587) (15286,0.587)
  (15422,0.587) (15558,0.587) (15640,0.587) (16701,0.587) (16918,0.587) (17136,0.587)
  (17326,0.587) (17517,0.587) (18686,0.587) (18822,0.587) (19013,0.587) (19230,0.587)
  (19421,0.587) (19557,0.587)};
\node[font=\fs{3}{3}] at (axis cs:900,0.087) {Positive};
\node[font=\fs{3}{3}] at (axis cs:18600,0.087) {Negative};
\end{axis}
\begin{axis}[panel, at={(427bp,\py{955})}, width=247bp, height=79bp,
  xmin=-57, xmax=20091, ymin=-1.7, ymax=2.0,
  xtick={5000,10000,15000,20000}, ytick={-1.5,-0.5,0.5,1.5}, xtick pos=bottom, ytick pos=left,
  scaled ticks=false,
  xticklabel style={font=\fs{6.5}{7}, /pgf/number format/1000 sep={}},
  yticklabel style={rotate=90, anchor=south, font=\fs{6}{7}, /pgf/number format/fixed, /pgf/number format/precision=1, /pgf/number format/fixed zerofill},
  xlabel={Rank in ordered gene list}, ylabel={Signal2Noise}, label style={font=\fs{8}{9}},
  major tick length=2.5bp, axis line style={black!70, line width=0.6pt}, tick style={black!70}]
\addplot[fill=black!20, draw=none] coordinates {
  (0,0) (0,1.25) (50,1.15) (300,1.0) (600,0.9) (1000,0.79) (1400,0.7) (2000,0.59)
  (2800,0.48) (3500,0.4) (4100,0.32) (4800,0.18) (5580,0) (7000,-0.04) (9000,-0.1)
  (11000,-0.27) (13000,-0.47) (15000,-0.68) (17000,-0.85) (18500,-1.02) (19200,-1.2)
  (19500,-1.35) (19640,-1.6) (19693,-1.7) (19693,0)} -- cycle;
\draw[black!25, densely dotted] (axis cs:5580,-1.7) -- (axis cs:5580,2.0);
\node[font=\bfseries\fs{10}{11}, text=black!85] at (axis description cs:0.492,0.848)
  {\nolig Death<---------------------------------------------->Survival};
\node[font=\fs{8}{9}] at (axis description cs:0.344,0.544) {Zero cross at 5580};
\end{axis}
\node[font=\bfseries\fs{8}{9}] at (550bp,\py{708}) {GSEA Enrichment plot:KEGG APOPTOSIS};

% ---------------- panel letters
\node[font=\bfseries\fs{24}{26}, inner sep=0pt] at (12.5bp,\py{14.2}) {A};
\node[font=\bfseries\fs{24}{26}, inner sep=0pt] at (257.5bp,\py{12.5}) {B};
\node[font=\bfseries\fs{24}{26}, inner sep=0pt] at (17.5bp,\py{261.7}) {C};
\node[font=\bfseries\fs{24}{26}, inner sep=0pt] at (15.8bp,\py{700.8}) {D};

\pgfresetboundingbox
\useasboundingbox (0,0) rectangle (789bp,1144bp);
\end{tikzpicture}
\end{document}
